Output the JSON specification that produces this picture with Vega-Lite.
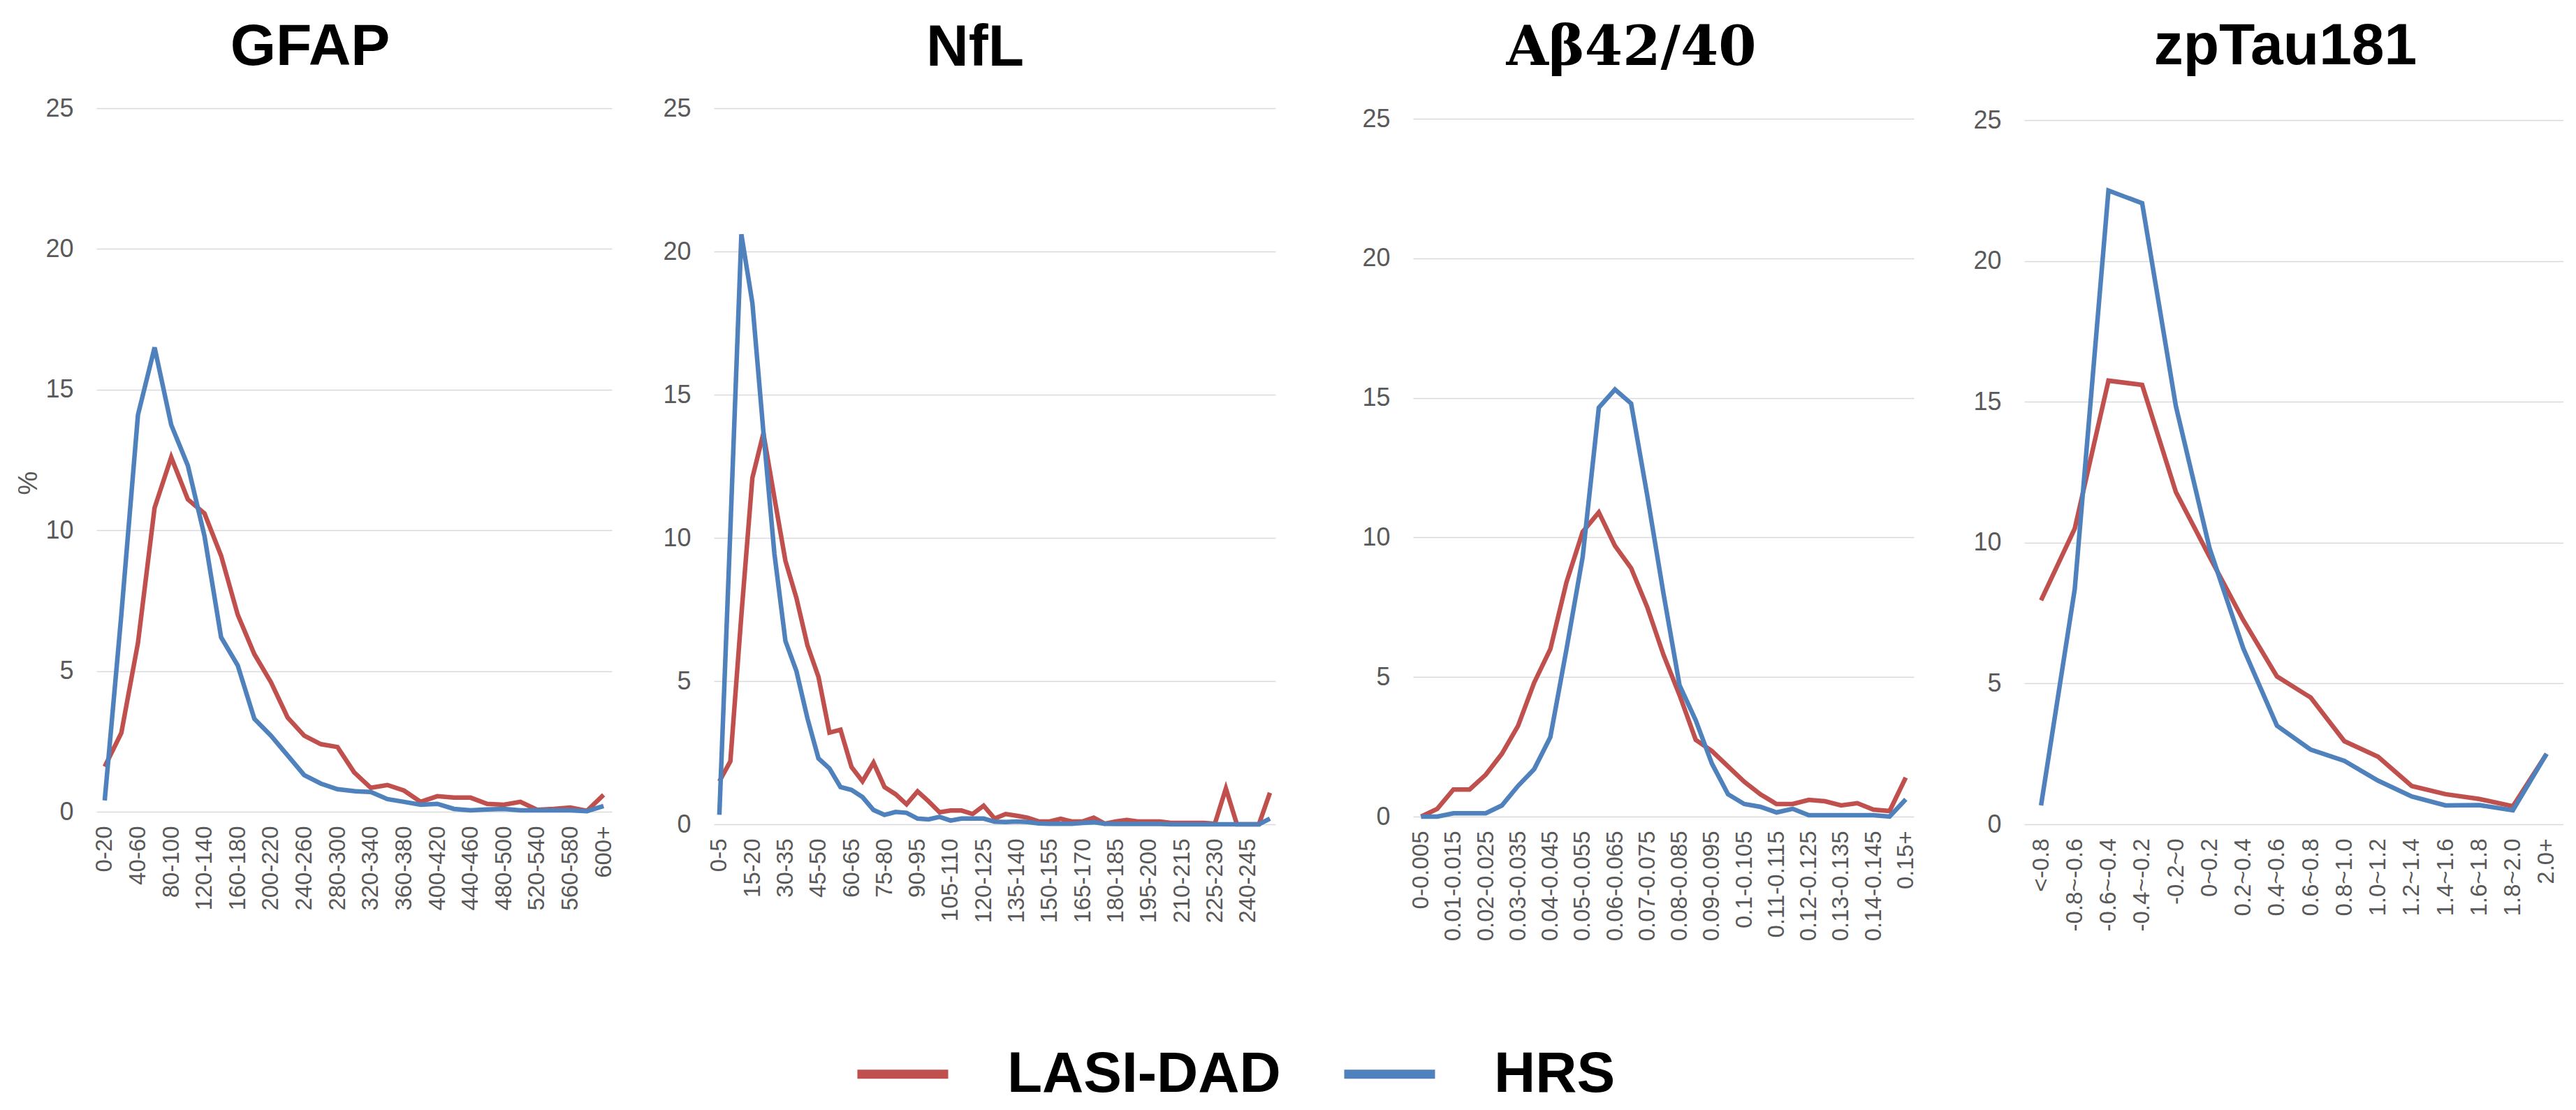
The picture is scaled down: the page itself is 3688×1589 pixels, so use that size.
{
"$schema": "https://vega.github.io/schema/vega-lite/v6.json",
"background": "white",
"padding": {"left": 22, "top": 25, "right": 0, "bottom": 0},
"config": {
  "view": {"stroke": null},
  "axisX": {"domain": false, "ticks": false, "grid": false, "labelAngle": -90, "labelFontSize": 33, "labelColor": "#595959", "labelFont": "Liberation Sans", "labelPadding": 20, "labelOverlap": false, "title": null},
  "axisY": {"domain": false, "ticks": false, "grid": true, "gridColor": "#d9d9d9", "gridWidth": 1.5, "labelFontSize": 36, "labelColor": "#595959", "labelFont": "Liberation Sans", "labelPadding": 33, "titleFontSize": 38, "titleColor": "#595959", "titleFont": "Liberation Sans", "titleFontWeight": "normal", "titlePadding": 4},
  "title": {"fontSize": 84, "font": "Liberation Sans", "fontWeight": "bold", "color": "black", "anchor": "middle", "frame": "group", "baseline": "alphabetic", "offset": 26}
},
"datasets": {
"gfap": [
{"c":"0-20","s":"LASI-DAD","v":1.6},{"c":"20-40","s":"LASI-DAD","v":2.8},{"c":"40-60","s":"LASI-DAD","v":6.0},{"c":"60-80","s":"LASI-DAD","v":10.8},{"c":"80-100","s":"LASI-DAD","v":12.6},{"c":"100-120","s":"LASI-DAD","v":11.1},{"c":"120-140","s":"LASI-DAD","v":10.6},{"c":"140-160","s":"LASI-DAD","v":9.1},{"c":"160-180","s":"LASI-DAD","v":7.0},{"c":"180-200","s":"LASI-DAD","v":5.6},{"c":"200-220","s":"LASI-DAD","v":4.6},{"c":"220-240","s":"LASI-DAD","v":3.35},{"c":"240-260","s":"LASI-DAD","v":2.7},{"c":"260-280","s":"LASI-DAD","v":2.4},{"c":"280-300","s":"LASI-DAD","v":2.3},{"c":"300-320","s":"LASI-DAD","v":1.4},{"c":"320-340","s":"LASI-DAD","v":0.85},{"c":"340-360","s":"LASI-DAD","v":0.95},{"c":"360-380","s":"LASI-DAD","v":0.75},{"c":"380-400","s":"LASI-DAD","v":0.35},{"c":"400-420","s":"LASI-DAD","v":0.55},{"c":"420-440","s":"LASI-DAD","v":0.5},{"c":"440-460","s":"LASI-DAD","v":0.5},{"c":"460-480","s":"LASI-DAD","v":0.28},{"c":"480-500","s":"LASI-DAD","v":0.25},{"c":"500-520","s":"LASI-DAD","v":0.35},{"c":"520-540","s":"LASI-DAD","v":0.07},{"c":"540-560","s":"LASI-DAD","v":0.1},{"c":"560-580","s":"LASI-DAD","v":0.15},{"c":"580-600","s":"LASI-DAD","v":0.03},{"c":"600+","s":"LASI-DAD","v":0.6},
{"c":"0-20","s":"HRS","v":0.4},{"c":"20-40","s":"HRS","v":7.0},{"c":"40-60","s":"HRS","v":14.1},{"c":"60-80","s":"HRS","v":16.5},{"c":"80-100","s":"HRS","v":13.75},{"c":"100-120","s":"HRS","v":12.3},{"c":"120-140","s":"HRS","v":9.8},{"c":"140-160","s":"HRS","v":6.2},{"c":"160-180","s":"HRS","v":5.2},{"c":"180-200","s":"HRS","v":3.3},{"c":"200-220","s":"HRS","v":2.7},{"c":"220-240","s":"HRS","v":2.0},{"c":"240-260","s":"HRS","v":1.3},{"c":"260-280","s":"HRS","v":1.0},{"c":"280-300","s":"HRS","v":0.8},{"c":"300-320","s":"HRS","v":0.73},{"c":"320-340","s":"HRS","v":0.7},{"c":"340-360","s":"HRS","v":0.45},{"c":"360-380","s":"HRS","v":0.35},{"c":"380-400","s":"HRS","v":0.25},{"c":"400-420","s":"HRS","v":0.28},{"c":"420-440","s":"HRS","v":0.1},{"c":"440-460","s":"HRS","v":0.05},{"c":"460-480","s":"HRS","v":0.08},{"c":"480-500","s":"HRS","v":0.1},{"c":"500-520","s":"HRS","v":0.05},{"c":"520-540","s":"HRS","v":0.05},{"c":"540-560","s":"HRS","v":0.05},{"c":"560-580","s":"HRS","v":0.05},{"c":"580-600","s":"HRS","v":0.02},{"c":"600+","s":"HRS","v":0.2}
],
"nfl": [
{"c":"0-5","s":"LASI-DAD","v":1.5},{"c":"5-10","s":"LASI-DAD","v":2.2},{"c":"10-15","s":"LASI-DAD","v":7.3},{"c":"15-20","s":"LASI-DAD","v":12.1},{"c":"20-25","s":"LASI-DAD","v":13.65},{"c":"25-30","s":"LASI-DAD","v":11.4},{"c":"30-35","s":"LASI-DAD","v":9.2},{"c":"35-40","s":"LASI-DAD","v":7.9},{"c":"40-45","s":"LASI-DAD","v":6.25},{"c":"45-50","s":"LASI-DAD","v":5.15},{"c":"50-55","s":"LASI-DAD","v":3.2},{"c":"55-60","s":"LASI-DAD","v":3.3},{"c":"60-65","s":"LASI-DAD","v":2.0},{"c":"65-70","s":"LASI-DAD","v":1.5},{"c":"70-75","s":"LASI-DAD","v":2.15},{"c":"75-80","s":"LASI-DAD","v":1.3},{"c":"80-85","s":"LASI-DAD","v":1.05},{"c":"85-90","s":"LASI-DAD","v":0.7},{"c":"90-95","s":"LASI-DAD","v":1.15},{"c":"95-100","s":"LASI-DAD","v":0.8},{"c":"100-105","s":"LASI-DAD","v":0.42},{"c":"105-110","s":"LASI-DAD","v":0.48},{"c":"110-115","s":"LASI-DAD","v":0.48},{"c":"115-120","s":"LASI-DAD","v":0.36},{"c":"120-125","s":"LASI-DAD","v":0.65},{"c":"125-130","s":"LASI-DAD","v":0.2},{"c":"130-135","s":"LASI-DAD","v":0.36},{"c":"135-140","s":"LASI-DAD","v":0.3},{"c":"140-145","s":"LASI-DAD","v":0.23},{"c":"145-150","s":"LASI-DAD","v":0.1},{"c":"150-155","s":"LASI-DAD","v":0.1},{"c":"155-160","s":"LASI-DAD","v":0.19},{"c":"160-165","s":"LASI-DAD","v":0.1},{"c":"165-170","s":"LASI-DAD","v":0.1},{"c":"170-175","s":"LASI-DAD","v":0.23},{"c":"175-180","s":"LASI-DAD","v":0.02},{"c":"180-185","s":"LASI-DAD","v":0.1},{"c":"185-190","s":"LASI-DAD","v":0.15},{"c":"190-195","s":"LASI-DAD","v":0.1},{"c":"195-200","s":"LASI-DAD","v":0.1},{"c":"200-205","s":"LASI-DAD","v":0.1},{"c":"205-210","s":"LASI-DAD","v":0.05},{"c":"210-215","s":"LASI-DAD","v":0.05},{"c":"215-220","s":"LASI-DAD","v":0.05},{"c":"220-225","s":"LASI-DAD","v":0.05},{"c":"225-230","s":"LASI-DAD","v":0.02},{"c":"230-235","s":"LASI-DAD","v":1.25},{"c":"235-240","s":"LASI-DAD","v":0.0},{"c":"240-245","s":"LASI-DAD","v":0.0},{"c":"245-250","s":"LASI-DAD","v":0.0},{"c":"250+","s":"LASI-DAD","v":1.1},
{"c":"0-5","s":"HRS","v":0.33},{"c":"5-10","s":"HRS","v":10.3},{"c":"10-15","s":"HRS","v":20.6},{"c":"15-20","s":"HRS","v":18.2},{"c":"20-25","s":"HRS","v":13.7},{"c":"25-30","s":"HRS","v":9.45},{"c":"30-35","s":"HRS","v":6.4},{"c":"35-40","s":"HRS","v":5.35},{"c":"40-45","s":"HRS","v":3.7},{"c":"45-50","s":"HRS","v":2.3},{"c":"50-55","s":"HRS","v":1.95},{"c":"55-60","s":"HRS","v":1.3},{"c":"60-65","s":"HRS","v":1.2},{"c":"65-70","s":"HRS","v":0.95},{"c":"70-75","s":"HRS","v":0.5},{"c":"75-80","s":"HRS","v":0.33},{"c":"80-85","s":"HRS","v":0.43},{"c":"85-90","s":"HRS","v":0.4},{"c":"90-95","s":"HRS","v":0.2},{"c":"95-100","s":"HRS","v":0.17},{"c":"100-105","s":"HRS","v":0.26},{"c":"105-110","s":"HRS","v":0.13},{"c":"110-115","s":"HRS","v":0.2},{"c":"115-120","s":"HRS","v":0.2},{"c":"120-125","s":"HRS","v":0.2},{"c":"125-130","s":"HRS","v":0.09},{"c":"130-135","s":"HRS","v":0.08},{"c":"135-140","s":"HRS","v":0.1},{"c":"140-145","s":"HRS","v":0.08},{"c":"145-150","s":"HRS","v":0.03},{"c":"150-155","s":"HRS","v":0.02},{"c":"155-160","s":"HRS","v":0.02},{"c":"160-165","s":"HRS","v":0.02},{"c":"165-170","s":"HRS","v":0.05},{"c":"170-175","s":"HRS","v":0.07},{"c":"175-180","s":"HRS","v":0.02},{"c":"180-185","s":"HRS","v":0.01},{"c":"185-190","s":"HRS","v":0.01},{"c":"190-195","s":"HRS","v":0.01},{"c":"195-200","s":"HRS","v":0.01},{"c":"200-205","s":"HRS","v":0.01},{"c":"205-210","s":"HRS","v":0.0},{"c":"210-215","s":"HRS","v":0.0},{"c":"215-220","s":"HRS","v":0.0},{"c":"220-225","s":"HRS","v":0.0},{"c":"225-230","s":"HRS","v":0.0},{"c":"230-235","s":"HRS","v":0.0},{"c":"235-240","s":"HRS","v":0.0},{"c":"240-245","s":"HRS","v":0.0},{"c":"245-250","s":"HRS","v":0.0},{"c":"250+","s":"HRS","v":0.2}
],
"abeta": [
{"c":"0-0.005","s":"LASI-DAD","v":0.0},{"c":"0.005-0.01","s":"LASI-DAD","v":0.28},{"c":"0.01-0.015","s":"LASI-DAD","v":0.97},{"c":"0.015-0.02","s":"LASI-DAD","v":0.97},{"c":"0.02-0.025","s":"LASI-DAD","v":1.5},{"c":"0.025-0.03","s":"LASI-DAD","v":2.25},{"c":"0.03-0.035","s":"LASI-DAD","v":3.25},{"c":"0.035-0.04","s":"LASI-DAD","v":4.8},{"c":"0.04-0.045","s":"LASI-DAD","v":6.0},{"c":"0.045-0.05","s":"LASI-DAD","v":8.4},{"c":"0.05-0.055","s":"LASI-DAD","v":10.2},{"c":"0.055-0.06","s":"LASI-DAD","v":10.9},{"c":"0.06-0.065","s":"LASI-DAD","v":9.7},{"c":"0.065-0.07","s":"LASI-DAD","v":8.9},{"c":"0.07-0.075","s":"LASI-DAD","v":7.5},{"c":"0.075-0.08","s":"LASI-DAD","v":5.8},{"c":"0.08-0.085","s":"LASI-DAD","v":4.35},{"c":"0.085-0.09","s":"LASI-DAD","v":2.75},{"c":"0.09-0.095","s":"LASI-DAD","v":2.35},{"c":"0.095-0.1","s":"LASI-DAD","v":1.8},{"c":"0.1-0.105","s":"LASI-DAD","v":1.25},{"c":"0.105-0.11","s":"LASI-DAD","v":0.8},{"c":"0.11-0.115","s":"LASI-DAD","v":0.45},{"c":"0.115-0.12","s":"LASI-DAD","v":0.45},{"c":"0.12-0.125","s":"LASI-DAD","v":0.6},{"c":"0.125-0.13","s":"LASI-DAD","v":0.55},{"c":"0.13-0.135","s":"LASI-DAD","v":0.4},{"c":"0.135-0.14","s":"LASI-DAD","v":0.48},{"c":"0.14-0.145","s":"LASI-DAD","v":0.25},{"c":"0.145-0.15","s":"LASI-DAD","v":0.2},{"c":"0.15+","s":"LASI-DAD","v":1.4},
{"c":"0-0.005","s":"HRS","v":0.0},{"c":"0.005-0.01","s":"HRS","v":0.0},{"c":"0.01-0.015","s":"HRS","v":0.12},{"c":"0.015-0.02","s":"HRS","v":0.12},{"c":"0.02-0.025","s":"HRS","v":0.12},{"c":"0.025-0.03","s":"HRS","v":0.4},{"c":"0.03-0.035","s":"HRS","v":1.1},{"c":"0.035-0.04","s":"HRS","v":1.7},{"c":"0.04-0.045","s":"HRS","v":2.85},{"c":"0.045-0.05","s":"HRS","v":6.0},{"c":"0.05-0.055","s":"HRS","v":9.3},{"c":"0.055-0.06","s":"HRS","v":14.65},{"c":"0.06-0.065","s":"HRS","v":15.3},{"c":"0.065-0.07","s":"HRS","v":14.8},{"c":"0.07-0.075","s":"HRS","v":11.5},{"c":"0.075-0.08","s":"HRS","v":8.0},{"c":"0.08-0.085","s":"HRS","v":4.7},{"c":"0.085-0.09","s":"HRS","v":3.45},{"c":"0.09-0.095","s":"HRS","v":1.9},{"c":"0.095-0.1","s":"HRS","v":0.8},{"c":"0.1-0.105","s":"HRS","v":0.45},{"c":"0.105-0.11","s":"HRS","v":0.35},{"c":"0.11-0.115","s":"HRS","v":0.15},{"c":"0.115-0.12","s":"HRS","v":0.28},{"c":"0.12-0.125","s":"HRS","v":0.05},{"c":"0.125-0.13","s":"HRS","v":0.05},{"c":"0.13-0.135","s":"HRS","v":0.05},{"c":"0.135-0.14","s":"HRS","v":0.05},{"c":"0.14-0.145","s":"HRS","v":0.05},{"c":"0.145-0.15","s":"HRS","v":0.0},{"c":"0.15+","s":"HRS","v":0.62}
],
"ptau": [
{"c":"<-0.8","s":"LASI-DAD","v":7.95},{"c":"-0.8~-0.6","s":"LASI-DAD","v":10.5},{"c":"-0.6~-0.4","s":"LASI-DAD","v":15.75},{"c":"-0.4~-0.2","s":"LASI-DAD","v":15.6},{"c":"-0.2~0","s":"LASI-DAD","v":11.8},{"c":"0~0.2","s":"LASI-DAD","v":9.5},{"c":"0.2~0.4","s":"LASI-DAD","v":7.25},{"c":"0.4~0.6","s":"LASI-DAD","v":5.25},{"c":"0.6~0.8","s":"LASI-DAD","v":4.5},{"c":"0.8~1.0","s":"LASI-DAD","v":2.95},{"c":"1.0~1.2","s":"LASI-DAD","v":2.4},{"c":"1.2~1.4","s":"LASI-DAD","v":1.36},{"c":"1.4~1.6","s":"LASI-DAD","v":1.07},{"c":"1.6~1.8","s":"LASI-DAD","v":0.9},{"c":"1.8~2.0","s":"LASI-DAD","v":0.64},{"c":"2.0+","s":"LASI-DAD","v":2.5},
{"c":"<-0.8","s":"HRS","v":0.67},{"c":"-0.8~-0.6","s":"HRS","v":8.35},{"c":"-0.6~-0.4","s":"HRS","v":22.5},{"c":"-0.4~-0.2","s":"HRS","v":22.05},{"c":"-0.2~0","s":"HRS","v":14.85},{"c":"0~0.2","s":"HRS","v":9.8},{"c":"0.2~0.4","s":"HRS","v":6.25},{"c":"0.4~0.6","s":"HRS","v":3.5},{"c":"0.6~0.8","s":"HRS","v":2.65},{"c":"0.8~1.0","s":"HRS","v":2.25},{"c":"1.0~1.2","s":"HRS","v":1.55},{"c":"1.2~1.4","s":"HRS","v":0.99},{"c":"1.4~1.6","s":"HRS","v":0.67},{"c":"1.6~1.8","s":"HRS","v":0.68},{"c":"1.8~2.0","s":"HRS","v":0.5},{"c":"2.0+","s":"HRS","v":2.5}
]
},
"spacing": 117,
"bounds": "full",
"hconcat": [
{
"spacing": 66,
"bounds": "full",
"hconcat": [
{
  "data": {"name": "gfap"},
  "width": 738, "height": 1007,
  "title": {"text": "GFAP", "dx": -63, "offset": 26},
  "mark": {"type": "line", "strokeWidth": 6.5},
  "encoding": {
    "x": {"field": "c", "type": "ordinal", "sort": null, "scale": {"type": "point", "padding": 0.5},
      "axis": {"values": ["0-20","40-60","80-100","120-140","160-180","200-220","240-260","280-300","320-340","360-380","400-420","440-460","480-500","520-540","560-580","600+"]}},
    "y": {"field": "v", "type": "quantitative", "scale": {"domain": [0, 25], "nice": false}, "axis": {"values": [0,5,10,15,20,25], "title": "%", "titleY": 536}},
    "color": {"field": "s", "type": "nominal", "sort": null, "scale": {"domain": ["LASI-DAD","HRS"], "range": ["#C0504D","#4F81BD"]},
      "legend": {"title": null, "orient": "none", "legendX": 1083, "legendY": 1311, "direction": "horizontal", "symbolType": "stroke", "symbolSize": 16900, "symbolStrokeWidth": 13, "labelFontSize": 82, "labelFont": "Liberation Sans", "labelFontWeight": "bold", "labelColor": "black", "labelOffset": 78, "columnPadding": 64, "labelLimit": 1000, "padding": 0}},
    "order": {"value": null}
  }
},
{
  "data": {"name": "nfl"},
  "width": 804, "height": 1025,
  "title": {"text": "NfL", "dx": -28, "offset": 25},
  "mark": {"type": "line", "strokeWidth": 6.5},
  "encoding": {
    "x": {"field": "c", "type": "ordinal", "sort": null, "scale": {"type": "point", "padding": 0.5},
      "axis": {"values": ["0-5","15-20","30-35","45-50","60-65","75-80","90-95","105-110","120-125","135-140","150-155","165-170","180-185","195-200","210-215","225-230","240-245"]}},
    "y": {"field": "v", "type": "quantitative", "scale": {"domain": [0, 25], "nice": false}, "axis": {"values": [0,5,10,15,20,25], "title": null}},
    "color": {"field": "s", "type": "nominal", "sort": null, "scale": {"domain": ["LASI-DAD","HRS"], "range": ["#C0504D","#4F81BD"]}},
    "order": {"value": null}
  }
}
]
},
{
"spacing": 78,
"bounds": "full",
"hconcat": [
{
  "data": {"name": "abeta"},
  "width": 717, "height": 1014,
  "title": {"text": "Aβ42/40", "dx": -46, "offset": 43, "font": "DejaVu Serif", "fontSize": 78},
  "mark": {"type": "line", "strokeWidth": 6.5},
  "encoding": {
    "x": {"field": "c", "type": "ordinal", "sort": null, "scale": {"type": "point", "padding": 0.5},
      "axis": {"values": ["0-0.005","0.01-0.015","0.02-0.025","0.03-0.035","0.04-0.045","0.05-0.055","0.06-0.065","0.07-0.075","0.08-0.085","0.09-0.095","0.1-0.105","0.11-0.115","0.12-0.125","0.13-0.135","0.14-0.145","0.15+"]}},
    "y": {"field": "v", "type": "quantitative", "scale": {"domain": [0, 25], "nice": false, "range": [1014, 15]}, "axis": {"values": [0,5,10,15,20,25], "title": null}},
    "color": {"field": "s", "type": "nominal", "sort": null, "scale": {"domain": ["LASI-DAD","HRS"], "range": ["#C0504D","#4F81BD"]}},
    "order": {"value": null}
  }
},
{
  "data": {"name": "ptau"},
  "width": 772, "height": 1025,
  "title": {"text": "zpTau181", "dx": -12, "offset": 44},
  "mark": {"type": "line", "strokeWidth": 6.5},
  "encoding": {
    "x": {"field": "c", "type": "ordinal", "sort": null, "scale": {"type": "point", "padding": 0.5}},
    "y": {"field": "v", "type": "quantitative", "scale": {"domain": [0, 25], "nice": false, "range": [1025, 17]}, "axis": {"values": [0,5,10,15,20,25], "title": null}},
    "color": {"field": "s", "type": "nominal", "sort": null, "scale": {"domain": ["LASI-DAD","HRS"], "range": ["#C0504D","#4F81BD"]}},
    "order": {"value": null}
  }
}
]
}
]
}
